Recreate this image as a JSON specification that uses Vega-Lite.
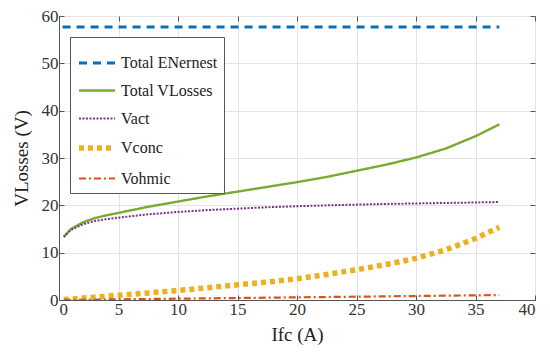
{
  "$schema": "https://vega.github.io/schema/vega-lite/v6.json",
  "width": 476,
  "height": 284,
  "autosize": {"type": "none"},
  "padding": {"left": 59, "top": 16, "right": 15, "bottom": 62},
  "background": "white",
  "config": {
    "font": "Liberation Serif",
    "view": {"stroke": "#555555", "strokeWidth": 1},
    "axis": {
      "labelFont": "Liberation Serif",
      "titleFont": "Liberation Serif",
      "labelFontSize": 17,
      "titleFontSize": 19,
      "titleFontWeight": "normal",
      "labelColor": "#333333",
      "titleColor": "#222222",
      "gridColor": "#e3e3e3",
      "domainColor": "#555555",
      "tickColor": "#555555",
      "tickSize": -5
    },
    "legend": {
      "labelFont": "Liberation Serif",
      "labelFontSize": 17,
      "labelColor": "#222222"
    }
  },
  "datasets": {
    "lines": [
      {"I": 0.3, "V": 57.7, "series": "Total ENernest"},
      {"I": 37, "V": 57.7, "series": "Total ENernest"},
      {"I": 0.4, "V": 13.4, "series": "Total VLosses"},
      {"I": 1, "V": 15.0, "series": "Total VLosses"},
      {"I": 2, "V": 16.4, "series": "Total VLosses"},
      {"I": 3, "V": 17.3, "series": "Total VLosses"},
      {"I": 4, "V": 17.9, "series": "Total VLosses"},
      {"I": 5, "V": 18.4, "series": "Total VLosses"},
      {"I": 7.5, "V": 19.7, "series": "Total VLosses"},
      {"I": 10, "V": 20.8, "series": "Total VLosses"},
      {"I": 12.5, "V": 21.9, "series": "Total VLosses"},
      {"I": 15, "V": 22.9, "series": "Total VLosses"},
      {"I": 17.5, "V": 23.9, "series": "Total VLosses"},
      {"I": 20, "V": 24.9, "series": "Total VLosses"},
      {"I": 22.5, "V": 26.0, "series": "Total VLosses"},
      {"I": 25, "V": 27.3, "series": "Total VLosses"},
      {"I": 27.5, "V": 28.6, "series": "Total VLosses"},
      {"I": 30, "V": 30.1, "series": "Total VLosses"},
      {"I": 32.5, "V": 32.0, "series": "Total VLosses"},
      {"I": 35, "V": 34.6, "series": "Total VLosses"},
      {"I": 37, "V": 37.1, "series": "Total VLosses"},
      {"I": 0.4, "V": 13.3, "series": "Vact"},
      {"I": 1, "V": 14.8, "series": "Vact"},
      {"I": 2, "V": 16.0, "series": "Vact"},
      {"I": 3, "V": 16.7, "series": "Vact"},
      {"I": 4, "V": 17.1, "series": "Vact"},
      {"I": 5, "V": 17.4, "series": "Vact"},
      {"I": 7.5, "V": 18.1, "series": "Vact"},
      {"I": 10, "V": 18.6, "series": "Vact"},
      {"I": 12.5, "V": 19.0, "series": "Vact"},
      {"I": 15, "V": 19.3, "series": "Vact"},
      {"I": 17.5, "V": 19.6, "series": "Vact"},
      {"I": 20, "V": 19.8, "series": "Vact"},
      {"I": 22.5, "V": 20.0, "series": "Vact"},
      {"I": 25, "V": 20.15, "series": "Vact"},
      {"I": 27.5, "V": 20.3, "series": "Vact"},
      {"I": 30, "V": 20.4, "series": "Vact"},
      {"I": 32.5, "V": 20.5, "series": "Vact"},
      {"I": 35, "V": 20.6, "series": "Vact"},
      {"I": 37, "V": 20.7, "series": "Vact"},
      {"I": 0.4, "V": 0.1, "series": "Vconc"},
      {"I": 1, "V": 0.2, "series": "Vconc"},
      {"I": 2, "V": 0.4, "series": "Vconc"},
      {"I": 3, "V": 0.6, "series": "Vconc"},
      {"I": 4, "V": 0.8, "series": "Vconc"},
      {"I": 5, "V": 1.0, "series": "Vconc"},
      {"I": 7.5, "V": 1.5, "series": "Vconc"},
      {"I": 10, "V": 2.0, "series": "Vconc"},
      {"I": 12.5, "V": 2.6, "series": "Vconc"},
      {"I": 15, "V": 3.2, "series": "Vconc"},
      {"I": 17.5, "V": 3.8, "series": "Vconc"},
      {"I": 20, "V": 4.5, "series": "Vconc"},
      {"I": 22.5, "V": 5.4, "series": "Vconc"},
      {"I": 25, "V": 6.4, "series": "Vconc"},
      {"I": 27.5, "V": 7.5, "series": "Vconc"},
      {"I": 30, "V": 8.8, "series": "Vconc"},
      {"I": 32.5, "V": 10.6, "series": "Vconc"},
      {"I": 35, "V": 13.0, "series": "Vconc"},
      {"I": 37, "V": 15.4, "series": "Vconc"},
      {"I": 0.4, "V": 0.01, "series": "Vohmic"},
      {"I": 10, "V": 0.28, "series": "Vohmic"},
      {"I": 20, "V": 0.56, "series": "Vohmic"},
      {"I": 30, "V": 0.84, "series": "Vohmic"},
      {"I": 37, "V": 1.04, "series": "Vohmic"}
    ]
  },
  "data": {"name": "lines"},
  "resolve": {"axis": {"x": "independent", "y": "independent"}},
  "layer": [
    {
      "mark": {"type": "line", "clip": true},
      "encoding": {
        "x": {
          "field": "I", "type": "quantitative",
          "scale": {"domain": [0, 40], "nice": false},
          "axis": {"values": [0, 5, 10, 15, 20, 25, 30, 35, 40], "title": "Ifc (A)", "titlePadding": 8, "labelPadding": 6}
        },
        "y": {
          "field": "V", "type": "quantitative",
          "scale": {"domain": [0, 60], "nice": false},
          "axis": {"values": [0, 10, 20, 30, 40, 50, 60], "title": "VLosses (V)", "titlePadding": 10, "labelPadding": 6}
        },
        "color": {
          "field": "series", "type": "nominal",
          "scale": {
            "domain": ["Total ENernest", "Total VLosses", "Vact", "Vconc", "Vohmic"],
            "range": ["#0072BD", "#77AC30", "#7E2F8E", "#EDB120", "#D95319"]
          },
          "legend": {
            "title": null,
            "orient": "none",
            "legendX": 11,
            "legendY": 21,
            "fillColor": "white",
            "strokeColor": "#555555",
            "padding": 6,
            "symbolType": "stroke",
            "symbolSize": 1300,
            "rowPadding": -15,
            "labelOffset": 3,
            "labelFontSize": 16
          }
        },
        "strokeDash": {
          "field": "series", "type": "nominal",
          "scale": {
            "domain": ["Total ENernest", "Total VLosses", "Vact", "Vconc", "Vohmic"],
            "range": [[8, 6], [1, 0], [2, 1.5], [5, 4], [7, 3, 2, 3]]
          },
          "legend": null
        },
        "strokeWidth": {
          "field": "series", "type": "ordinal",
          "scale": {
            "type": "ordinal",
            "domain": ["Total ENernest", "Total VLosses", "Vact", "Vconc", "Vohmic"],
            "range": [3, 2.4, 2, 5.5, 2.2]
          },
          "legend": null
        }
      }
    },
    {
      "mark": {"type": "point", "opacity": 0},
      "encoding": {
        "x": {
          "field": "I", "type": "quantitative",
          "axis": {"orient": "top", "values": [0, 5, 10, 15, 20, 25, 30, 35, 40], "labels": false, "title": null, "grid": false, "domain": false}
        },
        "y": {
          "field": "V", "type": "quantitative",
          "axis": {"orient": "right", "values": [0, 10, 20, 30, 40, 50, 60], "labels": false, "title": null, "grid": false, "domain": false}
        }
      }
    }
  ]
}
